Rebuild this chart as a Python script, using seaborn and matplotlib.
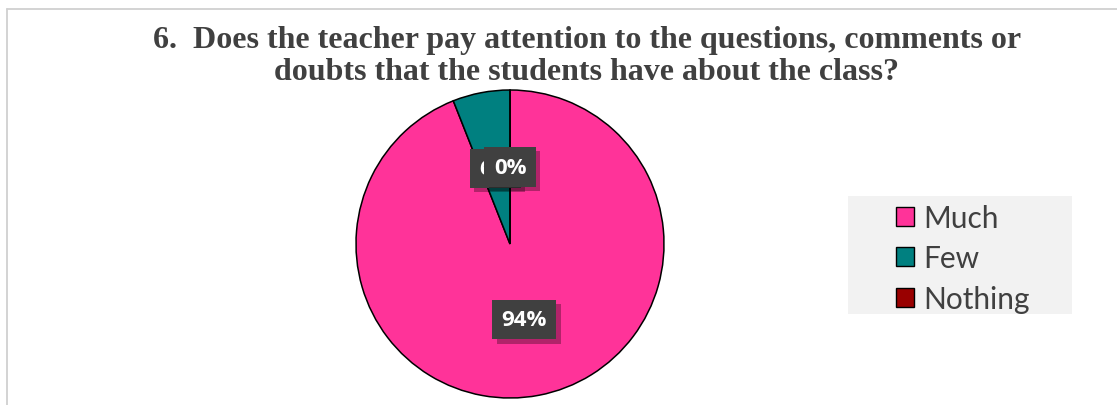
import matplotlib
matplotlib.use("Agg")
import matplotlib.pyplot as plt
import matplotlib.patheffects as pe
from matplotlib.patches import Rectangle, Patch
from matplotlib.lines import Line2D
import seaborn as sns

categories = ["Much", "Few", "Nothing"]
values = [94, 6, 0]
colors = ["#FF3399", "#008080", "#990000"]
title = "6.  Does the teacher pay attention to the questions, comments or\ndoubts that the students have about the class?"

sns.set_theme(style="white")
plt.rcParams['font.family'] = ['Open Sans', 'DejaVu Sans']

W, H = 1117, 406
fig = plt.figure(figsize=(W / 100, H / 100), dpi=100)
fig.patch.set_facecolor("white")

# chart border (top and left visible)
fig.add_artist(Line2D([7 / W, 1.0], [1 - 10 / H, 1 - 10 / H], transform=fig.transFigure,
                      color="#d0d0d0", lw=1.3))
fig.add_artist(Line2D([7 / W, 7 / W], [0, 1 - 10 / H], transform=fig.transFigure,
                      color="#d0d0d0", lw=1.3))

# pie axes
cx, cy, r = 510, 245, 154
ax = fig.add_axes([(cx - r) / W, (H - cy - r) / H, 2 * r / W, 2 * r / H])
wedges, texts, autotexts = ax.pie(
    values, colors=colors, startangle=90, counterclock=False,
    autopct=lambda p: f"{p:.0f}%", pctdistance=0.5,
    wedgeprops=dict(edgecolor="black", linewidth=1.1),
    textprops=dict(color="white", fontsize=16, fontweight="bold", family="Open Sans"))
for t in autotexts:
    t.set_bbox(dict(boxstyle="square,pad=0.42", facecolor="#404040", edgecolor="none"))
    bp = t.get_bbox_patch()
    bp.set_path_effects([pe.SimplePatchShadow(offset=(3, -3), shadow_rgbFace="black",
                                              alpha=0.3), pe.Normal()])
ax.set_xlim(-1.0, 1.0)
ax.set_ylim(-1.0, 1.0)
ax.set_aspect("equal")
ax.axis("off")

# title
fig.text(587 / W, 1 - 26 / H, title, ha="center", va="top", fontsize=23,
         fontweight="bold", family="Liberation Serif", color="#404040", linespacing=1.15,
         zorder=5)

# legend background
fig.add_artist(Rectangle((848 / W, 1 - 315 / H), (1072 - 848) / W, (315 - 197) / H,
                         transform=fig.transFigure, facecolor="#f2f2f2", edgecolor="none"))
handles = [Patch(facecolor=c, edgecolor="black", linewidth=1.0) for c in colors]
leg = fig.legend(handles, categories, loc="upper left",
                 bbox_to_anchor=(875 / W, 1 - 184 / H), frameon=False,
                 prop=dict(family="Lato", size=21.5), labelcolor="#404040",
                 handlelength=0.6, handleheight=0.6, handletextpad=0.3,
                 labelspacing=0.42, borderpad=0.2)

fig.savefig("out.png", dpi=100)
